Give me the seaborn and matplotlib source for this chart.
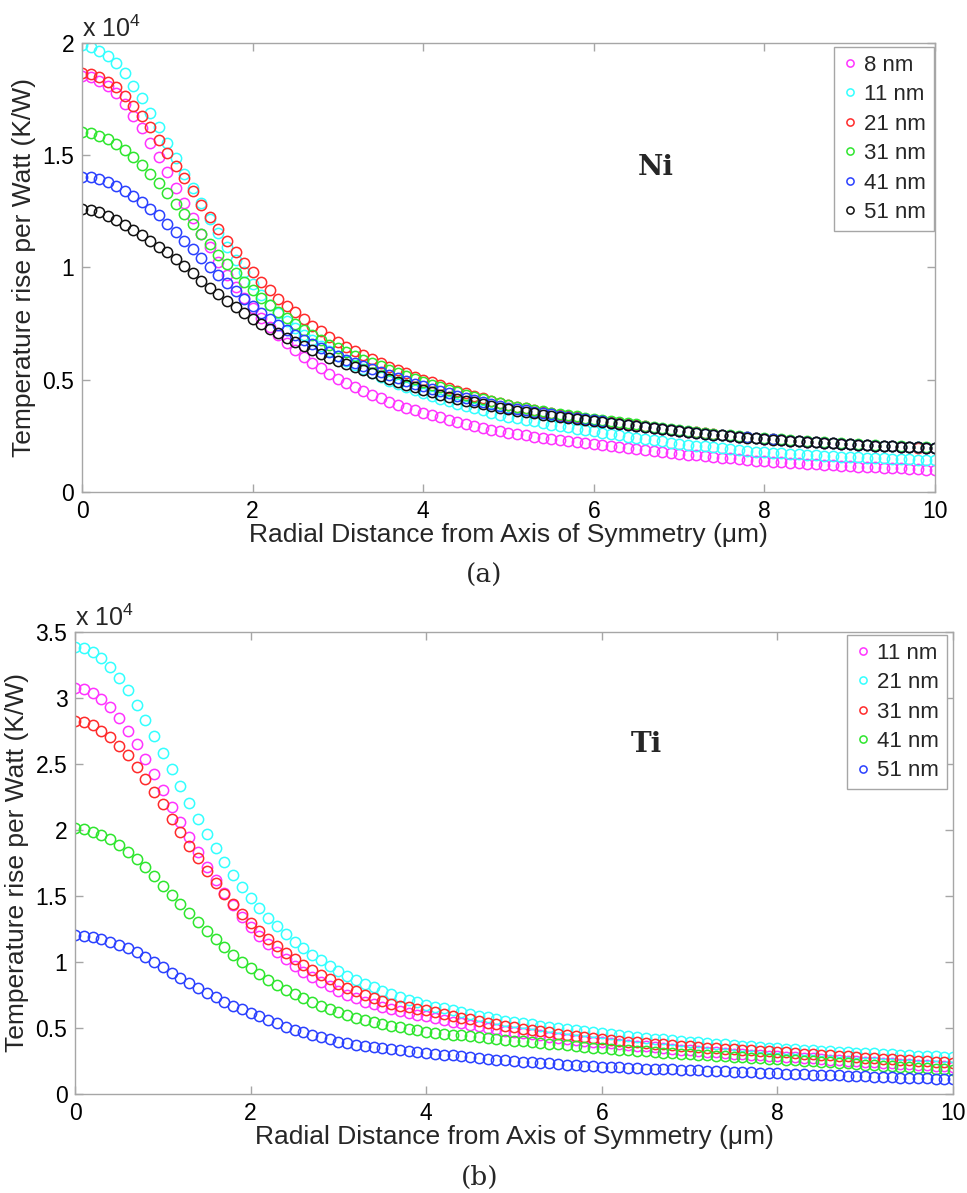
import numpy as np
import pandas as pd
import matplotlib
matplotlib.use("Agg")
import matplotlib.pyplot as plt
from matplotlib.ticker import FixedLocator, FuncFormatter
import seaborn as sns

# Radial positions of the sampled points (um)
radial_um = np.round(np.arange(101) * 0.1, 1)

# ---- Ni films: temperature rise per watt, in units of 1e4 K/W ----
ni_labels = ["8 nm", "11 nm", "21 nm", "31 nm", "41 nm", "51 nm"]
ni_8nm = [
    1.853, 1.847, 1.832, 1.808, 1.776, 1.728, 1.675, 1.620, 1.556, 1.494,
    1.425, 1.353, 1.286, 1.219, 1.150, 1.093, 1.026, 0.967, 0.915, 0.863,
    0.818, 0.775, 0.735, 0.698, 0.664, 0.632, 0.603, 0.576, 0.551, 0.526,
    0.502, 0.484, 0.466, 0.448, 0.432, 0.417, 0.403, 0.389, 0.376, 0.364,
    0.352, 0.342, 0.332, 0.322, 0.312, 0.303, 0.294, 0.286, 0.278, 0.270,
    0.262, 0.257, 0.252, 0.247, 0.242, 0.237, 0.232, 0.227, 0.222, 0.218,
    0.213, 0.208, 0.204, 0.199, 0.195, 0.191, 0.186, 0.182, 0.178, 0.174,
    0.170, 0.166, 0.163, 0.160, 0.156, 0.153, 0.150, 0.147, 0.143, 0.140,
    0.137, 0.135, 0.133, 0.130, 0.128, 0.126, 0.124, 0.122, 0.120, 0.117,
    0.115, 0.113, 0.112, 0.110, 0.108, 0.107, 0.105, 0.103, 0.102, 0.100,
    0.098]
ni_11nm = [
    1.991, 1.984, 1.966, 1.942, 1.909, 1.865, 1.808, 1.754, 1.690, 1.624,
    1.556, 1.486, 1.416, 1.352, 1.286, 1.215, 1.152, 1.093, 1.035, 0.978,
    0.925, 0.878, 0.835, 0.797, 0.762, 0.730, 0.701, 0.675, 0.650, 0.627,
    0.605, 0.585, 0.566, 0.548, 0.530, 0.512, 0.496, 0.481, 0.467, 0.453,
    0.440, 0.428, 0.416, 0.405, 0.394, 0.383, 0.373, 0.363, 0.353, 0.344,
    0.335, 0.328, 0.321, 0.314, 0.307, 0.300, 0.294, 0.288, 0.282, 0.276,
    0.270, 0.264, 0.258, 0.252, 0.246, 0.241, 0.236, 0.230, 0.225, 0.220,
    0.215, 0.211, 0.207, 0.203, 0.199, 0.195, 0.191, 0.187, 0.184, 0.180,
    0.177, 0.175, 0.172, 0.170, 0.168, 0.166, 0.164, 0.162, 0.160, 0.158,
    0.156, 0.154, 0.153, 0.151, 0.150, 0.148, 0.147, 0.145, 0.144, 0.142,
    0.141]
ni_21nm = [
    1.865, 1.860, 1.847, 1.828, 1.803, 1.764, 1.719, 1.675, 1.624, 1.568,
    1.511, 1.454, 1.397, 1.340, 1.278, 1.224, 1.170, 1.118, 1.068, 1.021,
    0.979, 0.937, 0.900, 0.861, 0.829, 0.800, 0.769, 0.741, 0.716, 0.692,
    0.670, 0.648, 0.629, 0.610, 0.591, 0.573, 0.558, 0.543, 0.528, 0.514,
    0.500, 0.488, 0.476, 0.464, 0.452, 0.440, 0.429, 0.418, 0.407, 0.396,
    0.386, 0.379, 0.372, 0.365, 0.358, 0.351, 0.345, 0.339, 0.333, 0.327,
    0.322, 0.317, 0.312, 0.307, 0.302, 0.297, 0.292, 0.287, 0.282, 0.278,
    0.273, 0.269, 0.265, 0.261, 0.257, 0.253, 0.250, 0.247, 0.243, 0.240,
    0.237, 0.234, 0.232, 0.229, 0.227, 0.224, 0.222, 0.220, 0.218, 0.215,
    0.213, 0.211, 0.209, 0.207, 0.205, 0.203, 0.202, 0.200, 0.198, 0.197,
    0.195]
ni_31nm = [
    1.605, 1.598, 1.586, 1.571, 1.549, 1.523, 1.494, 1.457, 1.416, 1.375,
    1.330, 1.283, 1.238, 1.193, 1.148, 1.104, 1.056, 1.014, 0.974, 0.937,
    0.900, 0.863, 0.833, 0.803, 0.774, 0.748, 0.722, 0.699, 0.677, 0.655,
    0.640, 0.623, 0.606, 0.590, 0.575, 0.560, 0.545, 0.531, 0.517, 0.503,
    0.490, 0.478, 0.467, 0.456, 0.445, 0.434, 0.424, 0.414, 0.404, 0.395,
    0.386, 0.379, 0.372, 0.366, 0.360, 0.354, 0.348, 0.342, 0.337, 0.331,
    0.326, 0.321, 0.316, 0.311, 0.306, 0.301, 0.296, 0.291, 0.286, 0.281,
    0.276, 0.272, 0.268, 0.264, 0.260, 0.256, 0.252, 0.249, 0.246, 0.242,
    0.239, 0.236, 0.234, 0.231, 0.229, 0.226, 0.224, 0.222, 0.220, 0.217,
    0.215, 0.213, 0.211, 0.209, 0.207, 0.205, 0.204, 0.202, 0.200, 0.199,
    0.197]
ni_41nm = [
    1.405, 1.402, 1.393, 1.379, 1.362, 1.342, 1.318, 1.291, 1.262, 1.232,
    1.195, 1.158, 1.120, 1.082, 1.043, 1.004, 0.966, 0.929, 0.894, 0.860,
    0.828, 0.798, 0.770, 0.744, 0.720, 0.698, 0.678, 0.658, 0.640, 0.622,
    0.606, 0.590, 0.575, 0.560, 0.547, 0.534, 0.521, 0.508, 0.495, 0.482,
    0.470, 0.459, 0.449, 0.439, 0.429, 0.419, 0.410, 0.401, 0.393, 0.385,
    0.376, 0.370, 0.364, 0.358, 0.352, 0.346, 0.340, 0.335, 0.330, 0.324,
    0.319, 0.314, 0.309, 0.304, 0.299, 0.295, 0.290, 0.285, 0.281, 0.276,
    0.272, 0.268, 0.264, 0.260, 0.256, 0.253, 0.249, 0.246, 0.243, 0.240,
    0.237, 0.234, 0.232, 0.229, 0.227, 0.224, 0.222, 0.220, 0.218, 0.215,
    0.213, 0.211, 0.209, 0.207, 0.205, 0.204, 0.202, 0.200, 0.199, 0.197,
    0.196]
ni_51nm = [
    1.261, 1.257, 1.246, 1.231, 1.212, 1.191, 1.168, 1.144, 1.119, 1.093,
    1.067, 1.038, 1.006, 0.975, 0.941, 0.910, 0.880, 0.851, 0.823, 0.797,
    0.772, 0.748, 0.726, 0.706, 0.686, 0.667, 0.649, 0.631, 0.615, 0.599,
    0.585, 0.571, 0.557, 0.543, 0.530, 0.517, 0.504, 0.491, 0.478, 0.466,
    0.454, 0.444, 0.434, 0.425, 0.416, 0.407, 0.399, 0.391, 0.383, 0.375,
    0.368, 0.362, 0.356, 0.350, 0.345, 0.339, 0.334, 0.329, 0.324, 0.320,
    0.316, 0.311, 0.306, 0.302, 0.297, 0.293, 0.288, 0.284, 0.279, 0.275,
    0.271, 0.267, 0.263, 0.259, 0.256, 0.252, 0.249, 0.245, 0.242, 0.239,
    0.236, 0.233, 0.231, 0.228, 0.226, 0.224, 0.222, 0.220, 0.218, 0.215,
    0.213, 0.211, 0.209, 0.207, 0.205, 0.204, 0.202, 0.200, 0.199, 0.197,
    0.196]

# ---- Ti films: temperature rise per watt, in units of 1e4 K/W ----
ti_labels = ["11 nm", "21 nm", "31 nm", "41 nm", "51 nm"]
ti_11nm = [
    3.073, 3.066, 3.035, 2.990, 2.929, 2.846, 2.752, 2.652, 2.535, 2.424,
    2.303, 2.175, 2.060, 1.944, 1.831, 1.722, 1.621, 1.520, 1.432, 1.343,
    1.268, 1.199, 1.136, 1.078, 1.026, 0.972, 0.927, 0.889, 0.851, 0.815,
    0.783, 0.752, 0.725, 0.700, 0.680, 0.661, 0.643, 0.628, 0.614, 0.601,
    0.588, 0.575, 0.562, 0.549, 0.536, 0.524, 0.513, 0.502, 0.491, 0.480,
    0.470, 0.461, 0.452, 0.443, 0.434, 0.426, 0.418, 0.411, 0.404, 0.397,
    0.390, 0.384, 0.378, 0.372, 0.366, 0.360, 0.354, 0.348, 0.342, 0.336,
    0.330, 0.325, 0.320, 0.315, 0.310, 0.306, 0.302, 0.298, 0.294, 0.290,
    0.285, 0.281, 0.277, 0.273, 0.269, 0.265, 0.261, 0.257, 0.253, 0.249,
    0.245, 0.241, 0.237, 0.233, 0.229, 0.226, 0.222, 0.218, 0.214, 0.211,
    0.207]
ti_21nm = [
    3.389, 3.376, 3.351, 3.301, 3.232, 3.149, 3.061, 2.947, 2.833, 2.712,
    2.586, 2.460, 2.330, 2.207, 2.082, 1.968, 1.861, 1.756, 1.659, 1.566,
    1.482, 1.407, 1.336, 1.273, 1.212, 1.154, 1.104, 1.053, 1.012, 0.970,
    0.932, 0.896, 0.864, 0.833, 0.807, 0.782, 0.758, 0.736, 0.715, 0.695,
    0.676, 0.662, 0.648, 0.634, 0.620, 0.606, 0.593, 0.580, 0.568, 0.556,
    0.545, 0.536, 0.527, 0.518, 0.509, 0.500, 0.492, 0.484, 0.476, 0.468,
    0.460, 0.453, 0.446, 0.439, 0.432, 0.425, 0.419, 0.413, 0.407, 0.401,
    0.395, 0.390, 0.385, 0.380, 0.375, 0.370, 0.365, 0.360, 0.355, 0.350,
    0.345, 0.341, 0.338, 0.334, 0.331, 0.327, 0.324, 0.320, 0.317, 0.313,
    0.310, 0.307, 0.304, 0.300, 0.297, 0.294, 0.291, 0.288, 0.284, 0.281,
    0.278]
ti_31nm = [
    2.828, 2.818, 2.793, 2.752, 2.707, 2.639, 2.566, 2.480, 2.384, 2.290,
    2.193, 2.086, 1.984, 1.882, 1.785, 1.692, 1.601, 1.515, 1.437, 1.361,
    1.293, 1.233, 1.174, 1.118, 1.070, 1.023, 0.978, 0.939, 0.902, 0.869,
    0.835, 0.805, 0.777, 0.751, 0.726, 0.703, 0.685, 0.670, 0.657, 0.645,
    0.634, 0.620, 0.606, 0.592, 0.578, 0.565, 0.552, 0.540, 0.528, 0.516,
    0.505, 0.495, 0.485, 0.475, 0.466, 0.457, 0.448, 0.439, 0.431, 0.423,
    0.415, 0.409, 0.403, 0.397, 0.391, 0.385, 0.380, 0.375, 0.370, 0.365,
    0.360, 0.356, 0.352, 0.348, 0.344, 0.340, 0.336, 0.332, 0.328, 0.324,
    0.320, 0.315, 0.311, 0.306, 0.302, 0.297, 0.293, 0.288, 0.284, 0.279,
    0.275, 0.271, 0.267, 0.263, 0.260, 0.256, 0.252, 0.249, 0.245, 0.241,
    0.238]
ti_41nm = [
    2.013, 2.005, 1.987, 1.962, 1.929, 1.886, 1.836, 1.780, 1.716, 1.648,
    1.578, 1.508, 1.437, 1.369, 1.301, 1.235, 1.174, 1.111, 1.053, 1.002,
    0.952, 0.907, 0.864, 0.826, 0.789, 0.757, 0.726, 0.696, 0.669, 0.644,
    0.620, 0.599, 0.579, 0.561, 0.544, 0.529, 0.516, 0.504, 0.492, 0.481,
    0.471, 0.464, 0.457, 0.450, 0.443, 0.436, 0.429, 0.423, 0.417, 0.411,
    0.405, 0.399, 0.393, 0.387, 0.381, 0.375, 0.369, 0.363, 0.357, 0.351,
    0.345, 0.340, 0.336, 0.331, 0.327, 0.322, 0.318, 0.313, 0.309, 0.304,
    0.300, 0.296, 0.293, 0.289, 0.286, 0.282, 0.279, 0.275, 0.272, 0.268,
    0.265, 0.261, 0.256, 0.252, 0.248, 0.243, 0.239, 0.235, 0.231, 0.226,
    0.222, 0.218, 0.214, 0.210, 0.206, 0.202, 0.198, 0.194, 0.190, 0.186,
    0.182]
ti_51nm = [
    1.205, 1.200, 1.190, 1.175, 1.155, 1.130, 1.104, 1.074, 1.040, 1.003,
    0.961, 0.919, 0.881, 0.840, 0.801, 0.767, 0.732, 0.699, 0.669, 0.642,
    0.616, 0.587, 0.561, 0.535, 0.510, 0.487, 0.466, 0.447, 0.429, 0.413,
    0.397, 0.384, 0.374, 0.364, 0.355, 0.347, 0.339, 0.332, 0.325, 0.319,
    0.313, 0.306, 0.299, 0.292, 0.286, 0.280, 0.274, 0.267, 0.261, 0.255,
    0.250, 0.245, 0.240, 0.235, 0.231, 0.227, 0.223, 0.219, 0.215, 0.211,
    0.207, 0.204, 0.201, 0.198, 0.196, 0.193, 0.191, 0.188, 0.186, 0.183,
    0.180, 0.178, 0.175, 0.173, 0.171, 0.168, 0.166, 0.164, 0.162, 0.159,
    0.157, 0.155, 0.152, 0.150, 0.147, 0.145, 0.143, 0.140, 0.138, 0.135,
    0.133, 0.131, 0.129, 0.126, 0.124, 0.122, 0.120, 0.118, 0.115, 0.113,
    0.111]

ni_series = [ni_8nm, ni_11nm, ni_21nm, ni_31nm, ni_41nm, ni_51nm]
ti_series = [ti_11nm, ti_21nm, ti_31nm, ti_41nm, ti_51nm]

ni_colors = ["#ff33ff", "#33ffff", "#ff2a2a", "#2ee62e", "#2a40ff", "#111111"]
ti_colors = ["#ff33ff", "#33ffff", "#ff2a2a", "#2ee62e", "#2a40ff"]

ni_yticks = [0, 0.5, 1, 1.5, 2]
ti_yticks = [0, 0.5, 1, 1.5, 2, 2.5, 3, 3.5]
x_ticks = [0, 2, 4, 6, 8, 10]

sns.set_style("ticks")
plt.rcParams["font.family"] = ["Liberation Sans", "DejaVu Sans"]
plt.rcParams["mathtext.fontset"] = "custom"
plt.rcParams["mathtext.rm"] = "Liberation Sans"

SPINE = "#a6a6a6"

fig = plt.figure(figsize=(9.67, 11.93), dpi=100)
ax_ni = fig.add_axes([0.0848, 0.5876, 0.8821, 0.3764])
ax_ti = fig.add_axes([0.0776, 0.0830, 0.9080, 0.3873])


def draw_panel(ax, labels, series, colors, yticks, ymax):
    frames = []
    for lab, vals in zip(labels, series):
        frames.append(pd.DataFrame({"r": radial_um, "T": vals, "film": lab}))
    df = pd.concat(frames, ignore_index=True)
    for lab, col in zip(labels, colors):
        sub = df[df["film"] == lab]
        sns.lineplot(data=sub, x="r", y="T", ax=ax, color=col, marker="o",
                     linestyle="", markersize=7.4, mfc="none", mec=col,
                     mew=1.1, errorbar=None, legend=False, label=lab)
    ax.set_xlim(0, 10)
    ax.set_ylim(0, ymax)
    ax.xaxis.set_major_locator(FixedLocator(x_ticks))
    ax.yaxis.set_major_locator(FixedLocator(yticks))
    fmt = FuncFormatter(lambda v, p: f"{v:g}")
    ax.xaxis.set_major_formatter(fmt)
    ax.yaxis.set_major_formatter(fmt)
    for s in ax.spines.values():
        s.set_visible(True)
        s.set_color(SPINE)
        s.set_linewidth(1.0)
    ax.tick_params(direction="in", length=6, width=1.0, color=SPINE,
                   labelsize=16.5, labelcolor="black", pad=5.5,
                   top=True, right=True)
    ax.set_xlabel("Radial Distance from Axis of Symmetry (\u03bcm)",
                  fontsize=19, labelpad=0)
    ax.set_ylabel("Temperature rise per Watt (K/W)", fontsize=19, labelpad=5)
    ax.text(0.0, 1.003, r"x 10$^{\mathregular{4}}$", transform=ax.transAxes,
            fontsize=18, ha="left", va="bottom")


draw_panel(ax_ni, ni_labels, ni_series, ni_colors, ni_yticks, 2.0)
draw_panel(ax_ti, ti_labels, ti_series, ti_colors, ti_yticks, 3.5)

leg_kw = dict(loc="upper right", fontsize=16, markerscale=0.7,
              handlelength=0.7, handletextpad=0.3, borderpad=0.35,
              labelspacing=0.38, borderaxespad=0.0, frameon=True,
              fancybox=False, framealpha=1.0, edgecolor=SPINE)
leg1 = ax_ni.legend(bbox_to_anchor=(0.999, 0.991), **leg_kw)
leg2 = ax_ti.legend(bbox_to_anchor=(0.993, 0.9935), **leg_kw)
for leg in (leg1, leg2):
    leg.get_frame().set_linewidth(1.0)

ax_ni.text(0.673, 0.722, "Ni", transform=ax_ni.transAxes, fontsize=20,
           fontweight="bold", family="DejaVu Serif", ha="center", va="center")
ax_ti.text(0.651, 0.756, "Ti", transform=ax_ti.transAxes, fontsize=20,
           fontweight="bold", family="DejaVu Serif", ha="center", va="center")

fig.text(484 / 967, 1 - 575 / 1193, "(a)", fontsize=19,
         family="DejaVu Serif", ha="center", va="center")
fig.text(480 / 967, 1 - 1177 / 1193, "(b)", fontsize=19,
         family="DejaVu Serif", ha="center", va="center")

fig.savefig("out.png", dpi=100, facecolor="white")
